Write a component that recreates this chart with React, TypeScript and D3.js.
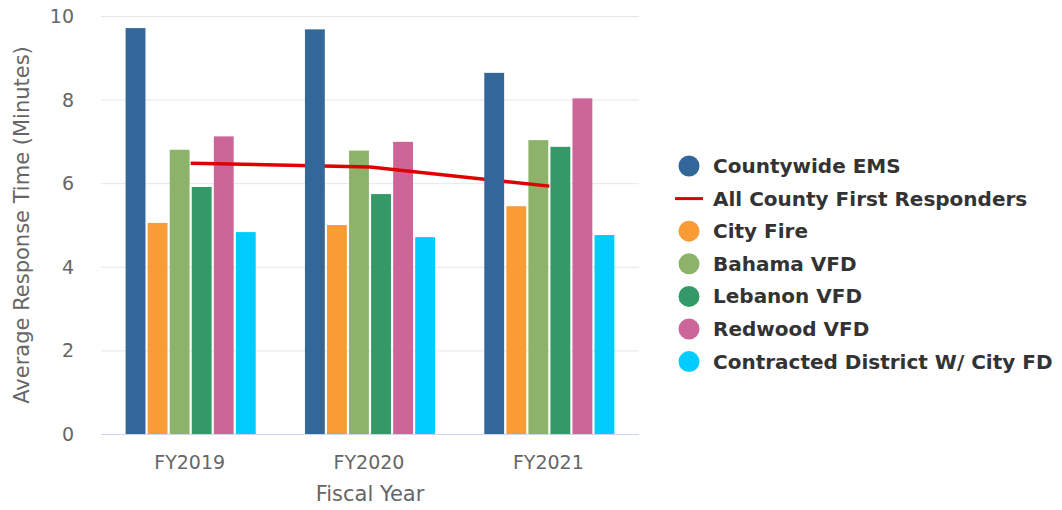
import React, { useEffect, useRef } from 'react';
import * as d3 from 'd3';

const years = ['FY2019', 'FY2020', 'FY2021'];

const countywideEms = [9.71, 9.68, 8.64];
const cityFire = [5.05, 5.0, 5.45];
const bahamaVfd = [6.8, 6.78, 7.03];
const lebanonVfd = [5.91, 5.74, 6.87];
const redwoodVfd = [7.12, 6.99, 8.03];
const contractedDistrict = [4.83, 4.71, 4.76];
const allCountyFirst = [6.48, 6.39, 5.93];

const yTicks = [0, 2, 4, 6, 8, 10];

interface BarSeries {
  name: string;
  color: string;
  values: number[];
}

const barSeries: BarSeries[] = [
  { name: 'Countywide EMS', color: '#336699', values: countywideEms },
  { name: 'City Fire', color: '#f99c35', values: cityFire },
  { name: 'Bahama VFD', color: '#8db26a', values: bahamaVfd },
  { name: 'Lebanon VFD', color: '#339966', values: lebanonVfd },
  { name: 'Redwood VFD', color: '#cc6699', values: redwoodVfd },
  { name: 'Contracted District W/ City FD', color: '#00ccff', values: contractedDistrict },
];

const lineName = 'All County First Responders';
const lineColor = '#e00000';

const legendOrder = [
  barSeries[0].name,
  lineName,
  ...barSeries.slice(1).map(s => s.name),
];

const App: React.FC = () => {
  const svgRef = useRef<SVGSVGElement>(null);

  useEffect(() => {
    if (!svgRef.current) return;
    const svg = d3.select(svgRef.current);
    svg.selectAll('*').remove();

    const left = 101, right = 639, top = 16, bottom = 434;
    const font = 'DejaVu Sans, sans-serif';

    const x0 = d3.scaleBand<string>()
      .domain(years)
      .range([left, right])
      .paddingInner(0.25)
      .paddingOuter(0.125);

    const x1 = d3.scaleBand<string>()
      .domain(barSeries.map(s => s.name))
      .range([0, x0.bandwidth()])
      .padding(0.1);

    const y = d3.scaleLinear().domain([0, 10]).range([bottom, top]);

    // grid
    svg.append('g')
      .selectAll('line')
      .data(yTicks.filter(t => t > 0))
      .enter()
      .append('line')
      .attr('x1', left)
      .attr('x2', right)
      .attr('y1', d => y(d) + 0.5)
      .attr('y2', d => y(d) + 0.5)
      .attr('stroke', '#e6e6e6')
      .attr('stroke-width', 1);

    svg.append('line')
      .attr('x1', left)
      .attr('x2', right)
      .attr('y1', bottom + 0.5)
      .attr('y2', bottom + 0.5)
      .attr('stroke', '#ccd6eb');

    // y tick labels
    svg.append('g')
      .selectAll('text')
      .data(yTicks)
      .enter()
      .append('text')
      .attr('x', 74)
      .attr('y', d => y(d) + 7)
      .attr('text-anchor', 'end')
      .style('font-family', font)
      .style('font-size', '19px')
      .attr('fill', '#666666')
      .text(d => d);

    // x tick labels
    svg.append('g')
      .selectAll('text')
      .data(years)
      .enter()
      .append('text')
      .attr('x', d => x0(d)! + x0.bandwidth() / 2 - 1)
      .attr('y', 469)
      .attr('text-anchor', 'middle')
      .style('font-family', font)
      .style('font-size', '19px')
      .attr('fill', '#666666')
      .text(d => d);

    svg.append('text')
      .attr('x', (left + right) / 2)
      .attr('y', 501)
      .attr('text-anchor', 'middle')
      .style('font-family', font)
      .style('font-size', '21px')
      .attr('fill', '#666666')
      .text('Fiscal Year');

    svg.append('text')
      .attr('transform', `translate(29,${(top + bottom) / 2}) rotate(-90)`)
      .attr('text-anchor', 'middle')
      .style('font-family', font)
      .style('font-size', '21px')
      .attr('fill', '#666666')
      .text('Average Response Time (Minutes)');

    const drawBars = (list: BarSeries[]) => {
      list.forEach(s => {
        svg.append('g')
          .selectAll('rect')
          .data(s.values)
          .enter()
          .append('rect')
          .attr('x', (_, i) => x0(years[i])! + x1(s.name)!)
          .attr('y', d => y(d))
          .attr('width', x1.bandwidth())
          .attr('height', d => bottom - y(d))
          .attr('fill', s.color);
      });
    };

    // countywide bars sit above the line, the others below it
    drawBars(barSeries.slice(1));

    const line = d3.line<number>()
      .x((_, i) => x0(years[i])! + x0.bandwidth() / 2)
      .y(d => y(d));

    svg.append('path')
      .datum(allCountyFirst)
      .attr('d', line)
      .attr('fill', 'none')
      .attr('stroke', lineColor)
      .attr('stroke-width', 3.5);

    drawBars(barSeries.slice(0, 1));

    // legend
    const legend = svg.append('g');
    legendOrder.forEach((name, i) => {
      const cy = 166 + i * 32.6;
      if (name === lineName) {
        legend.append('line')
          .attr('x1', 675)
          .attr('x2', 703)
          .attr('y1', cy)
          .attr('y2', cy)
          .attr('stroke', lineColor)
          .attr('stroke-width', 3);
      } else {
        const s = barSeries.find(b => b.name === name)!;
        legend.append('circle')
          .attr('cx', 689)
          .attr('cy', cy)
          .attr('r', 10.5)
          .attr('fill', s.color);
      }
      legend.append('text')
        .attr('x', 713)
        .attr('y', cy + 7)
        .style('font-family', font)
        .style('font-size', '20px')
        .style('font-weight', 'bold')
        .attr('fill', '#333333')
        .text(name);
    });
  }, []);

  return (
    <div style={{ margin: '-8px' }}>
      <svg ref={svgRef} width={1062} height={510} style={{ display: 'block', background: '#fff' }} />
    </div>
  );
};

export default App;
